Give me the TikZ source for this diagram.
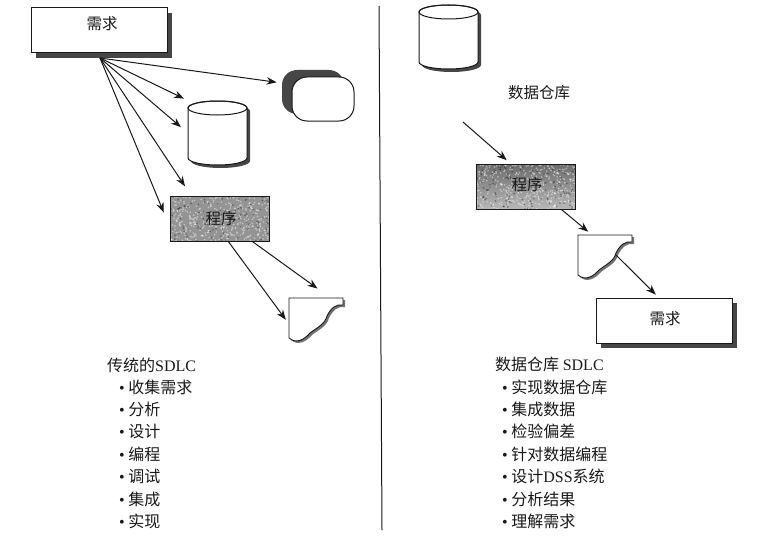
\documentclass[tikz,border=0pt]{standalone}
\usepackage{fontspec}
\usepackage{xcolor}
\setmainfont{Liberation Serif}
\newfontfamily\cjk{Noto Sans CJK SC}
\usetikzlibrary{arrows.meta,shadows}
\definecolor{inkcolor}{RGB}{25,25,25}
\definecolor{shadecolor}{RGB}{70,70,70}
\tikzset{
    flow/.style={draw=inkcolor, line width=1pt, -{Stealth[length=10pt,width=7.5pt]}},
    reqbox/.style={draw=inkcolor, line width=1pt, fill=white, minimum width=136pt, minimum height=45pt, inner sep=0pt,
        general shadow={shadow xshift=5pt, shadow yshift=-5pt, fill=shadecolor}},
    progbox/.style={draw=inkcolor, line width=1pt, minimum width=99pt, minimum height=45pt, inner sep=0pt,
        path picture={
            \foreach \n in {1,...,420}{
                \pgfmathsetmacro{\spx}{rnd*100-50}
                \pgfmathsetmacro{\spy}{rnd*46-23}
                \fill[white, opacity=0.45] ([xshift=\spx pt,yshift=\spy pt]path picture bounding box.center) circle (0.9pt);
            }
            \foreach \n in {1,...,130}{
                \pgfmathsetmacro{\spx}{rnd*100-50}
                \pgfmathsetmacro{\spy}{rnd*46-23}
                \fill[black, opacity=0.35] ([xshift=\spx pt,yshift=\spy pt]path picture bounding box.center) circle (0.9pt);
            }
        }},
    storebox/.style={draw=inkcolor, line width=1pt, fill=white, rounded corners=15pt, minimum width=62pt, minimum height=44pt, inner sep=0pt,
        general shadow={shadow xshift=-10pt, shadow yshift=7pt, fill=shadecolor}},
    spot/.style={minimum width=#1, minimum height=45pt, inner sep=0pt},
    boxtext/.style={font=\cjk\fontsize{15.5}{16}\selectfont, text=inkcolor, inner sep=0pt},
    listtext/.style={font=\cjk\fontsize{16}{17}\selectfont, text=inkcolor, anchor=west, inner sep=0pt},
}
% torn page, from its top left corner
\newcommand{\reportpage}[2]{
    \fill[black!55, shift={(#1+2,#2+2)}] (0,0) -- (54,0) -- (54,7) .. controls (47,6) and (42,10) .. (38,18)
        .. controls (36,26) and (29,29) .. (21,35) .. controls (15,42) and (7,46) .. (0,40) -- cycle;
    \draw[draw=inkcolor, line width=0.9pt, fill=white, shift={(#1,#2)}] (0,0) -- (54,0) -- (54,7) .. controls (47,6) and (42,10) .. (38,18)
        .. controls (36,26) and (29,29) .. (21,35) .. controls (15,42) and (7,46) .. (0,40) -- cycle;
}
% storage drum, from its top left corner
\newcommand{\drumbody}[2]{
    \fill[shadecolor, shift={(#1+3,#2+3)}] (0,7) arc[start angle=180, end angle=0, x radius=29.5pt, y radius=7pt]
        -- (59,57) arc[start angle=360, end angle=180, x radius=29.5pt, y radius=7pt] -- cycle;
    \draw[draw=inkcolor, line width=1pt, fill=white, shift={(#1,#2)}] (0,7) arc[start angle=180, end angle=0, x radius=29.5pt, y radius=7pt]
        -- (59,57) arc[start angle=360, end angle=180, x radius=29.5pt, y radius=7pt] -- cycle;
    \draw[draw=inkcolor, line width=1pt, shift={(#1,#2)}] (29.5,7) ellipse [x radius=29.5pt, y radius=7pt];
}

\begin{document}
\begin{tikzpicture}[x=1pt, y=-1pt]
    \useasboundingbox (0,0) rectangle (782,543);
    \pgfmathsetseed{42}

    % left side
    \node[reqbox] (reqleft) at (99,30.5) {};
    \node[boxtext] (reqlefttext) at (102,24) {需求};
    \node[storebox] (storeleft) at (323,99) {};
    \node[spot=59pt, minimum height=64pt] (drumleft) at (217.5,133) {};
    \drumbody{188}{101}
    \node[progbox, fill=black!42] (progleft) at (219.5,218.5) {};
    \node[boxtext] (proglefttext) at (221,219) {程序};
    \node[spot=54pt] (repleft) at (316,320) {};
    \reportpage{289}{298}
    \coordinate (fanfoot) at (100,58);

    \draw[flow, shorten >=15pt] (fanfoot) -- (storeleft.155);
    \draw[flow, shorten >=5pt] (fanfoot) -- (drumleft.132);
    \draw[flow, shorten >=9pt] (fanfoot) -- (drumleft.180);
    \draw[flow, shorten >=11pt] (fanfoot) -- (progleft.141);
    \draw[flow, shorten >=15pt] (fanfoot) -- (progleft.189);
    \draw[flow, shorten >=5pt] (progleft.-69) -- (repleft.188);
    \draw[flow, shorten >=15pt] (progleft.-35) -- (repleft.59);

    % divider
    \coordinate (dividertop) at (379,6);
    \coordinate (dividerfoot) at (382,530);
    \draw[inkcolor, line width=1pt] (dividertop) -- (dividerfoot);

    % right side
    \node[spot=59pt, minimum height=64pt] (drumright) at (448.5,37) {};
    \drumbody{419}{5}
    \node[boxtext] (drumrighttext) at (539,93) {数据仓库};
    \node[progbox, top color=black!58, bottom color=black!28] (progright) at (526,186.5) {};
    \node[boxtext] (progrighttext) at (527,185) {程序};
    \node[spot=54pt] (repright) at (605,257) {};
    \reportpage{578}{235}
    \node[reqbox] (reqright) at (664,320.5) {};
    \node[boxtext] (reqrighttext) at (665,319) {需求};
    \coordinate (feedfoot) at (463,122);
    \coordinate (repnotch) at (616,255);

    \draw[flow, shorten >=5pt] (feedfoot) -- (progright.124);
    \draw[flow, shorten >=4pt] (progright.-33) -- (repright.121);
    \draw[flow, shorten >=4pt] (repnotch) -- (reqright.103);

    % the two lists
    \node[listtext] (titleleft) at (107,365) {传统的{\rmfamily SDLC}};
    \foreach \txt [count=\i] in {收集需求,分析,设计,编程,调试,集成,实现}{
        \node[listtext] (leftitem\i) at (119,387+22.4*\i-22.4) {{\rmfamily\textbullet}\hspace{3.5pt}\txt};
    }
    \node[listtext] (titleright) at (495,364) {数据仓库 {\rmfamily SDLC}};
    \foreach \txt [count=\i] in {实现数据仓库,集成数据,检验偏差,针对数据编程,设计{\rmfamily DSS}系统,分析结果,理解需求}{
        \node[listtext] (rightitem\i) at (502,387+22.4*\i-22.4) {{\rmfamily\textbullet}\hspace{3.5pt}\txt};
    }
\end{tikzpicture}
\end{document}
